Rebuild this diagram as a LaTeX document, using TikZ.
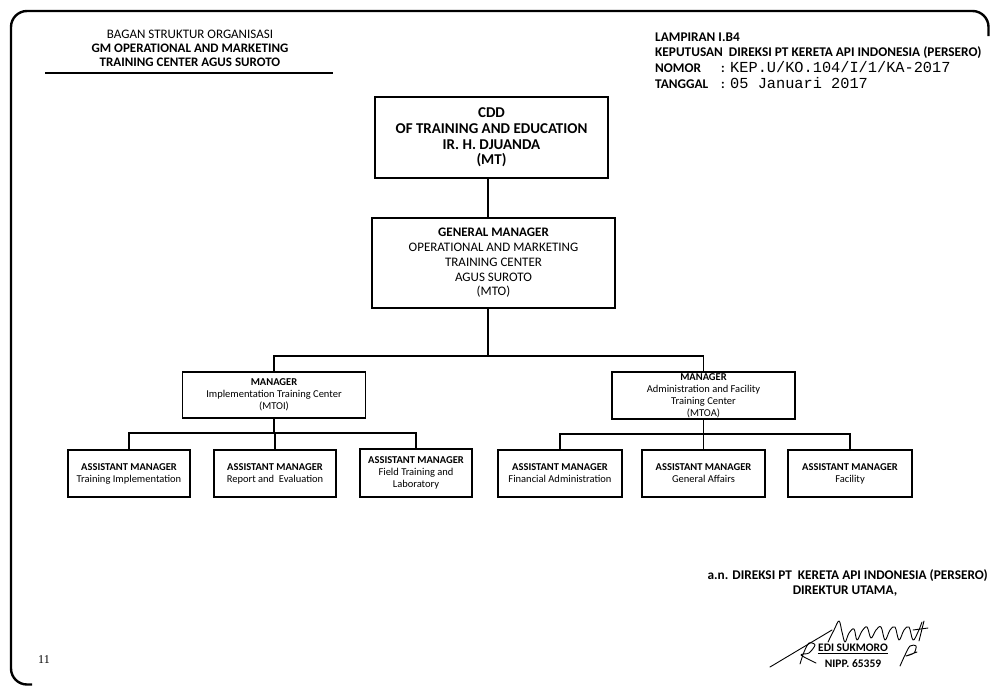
\documentclass[tikz,border=0pt]{standalone}
\usepackage{fontspec}
\setmainfont{Carlito}
\newfontfamily\monof{Liberation Mono}
\newfontfamily\serff{Liberation Serif}
\begin{document}
\begin{tikzpicture}[x=1pt,y=-1pt,
  box/.style={draw, line width=1.5pt, inner sep=0pt, align=center},
  conn/.style={line width=1.4pt},
  small/.style={font=\fontsize{10.5}{12}\selectfont},
  hdr/.style={font=\bfseries\fontsize{13.3}{14}\selectfont, inner sep=0pt, anchor=base west},
  sig/.style={line width=0.9pt, line cap=round, line join=round}]
\useasboundingbox (0,0) rectangle (990,686);
\fill[white] (0,0) rectangle (990,686);
% frame
\draw[line width=2.4pt, rounded corners=16pt] (32,684.5) -- (11,684.5) -- (11,11) -- (988.5,11) -- (988.5,36);
% title left
\node[font=\fontsize{13}{14.3}\selectfont, align=center, inner sep=0pt] (title) at (190,48.5)
  {BAGAN STRUKTUR ORGANISASI\\{\bfseries GM OPERATIONAL AND MARKETING}\\{\bfseries TRAINING CENTER AGUS SUROTO}};
\draw[line width=1.3pt] (45,73) -- (333,73);
% header right
\node[hdr] (lamp) at (655,41) {LAMPIRAN I.B4};
\node[hdr] (kep) at (655,56) {KEPUTUSAN\ \ DIREKSI PT KERETA API INDONESIA (PERSERO)};
\node[hdr] (nom) at (655,72) {NOMOR};
\node[hdr] (tgl) at (655,88) {TANGGAL};
\node[hdr] (c1) at (721,72) {:};
\node[hdr] (c2) at (721,88) {:};
\node[inner sep=0pt, anchor=base west, font=\monof\fontsize{15.3}{16}\selectfont] (nomv) at (730,72) {KEP.U/KO.104/I/1/KA-2017};
\node[inner sep=0pt, anchor=base west, font=\monof\fontsize{15.3}{16}\selectfont] (tglv) at (730,88) {05 Januari 2017};
% top boxes
\node[box, minimum width=233pt, minimum height=81pt, font=\bfseries\fontsize{15}{15.6}\selectfont] (cdd) at (491.5,137.5)
  {CDD\\OF TRAINING AND EDUCATION\\IR. H. DJUANDA\\(MT)};
\node[box, minimum width=243pt, minimum height=90pt, font=\fontsize{13}{14.75}\selectfont] (gm) at (493.5,263)
  {{\bfseries GENERAL MANAGER}\\OPERATIONAL AND MARKETING\\TRAINING CENTER\\AGUS SUROTO\\(MTO)};
% managers
\node[box, small, minimum width=183pt, minimum height=46pt] (mi) at (274,395)
  {{\bfseries MANAGER}\\Implementation Training Center\\(MTOI)};
\node[box, small, minimum width=183pt, minimum height=47pt] (ma) at (703.5,395.5)
  {{\bfseries MANAGER}\\Administration and Facility\\Training Center\\(MTOA)};
% assistants
\node[box, small, minimum width=122pt, minimum height=47pt] (a1) at (129,473.5)
  {{\bfseries ASSISTANT MANAGER}\\Training Implementation};
\node[box, small, minimum width=122pt, minimum height=47pt] (a2) at (275,473.5)
  {{\bfseries ASSISTANT MANAGER}\\Report and\ \ Evaluation};
\node[box, small, minimum width=112pt, minimum height=48pt] (a3) at (416,473)
  {{\bfseries ASSISTANT MANAGER}\\Field Training and\\Laboratory};
\node[box, small, minimum width=124pt, minimum height=47pt] (a4) at (560,473.5)
  {{\bfseries ASSISTANT MANAGER}\\Financial Administration};
\node[box, small, minimum width=123pt, minimum height=47pt] (a5) at (703.5,473.5)
  {{\bfseries ASSISTANT MANAGER}\\General Affairs};
\node[box, small, minimum width=124pt, minimum height=47pt] (a6) at (850,473.5)
  {{\bfseries ASSISTANT MANAGER}\\Facility};
% connectors
\coordinate (busy) at (0,356);
\coordinate (lby) at (0,433);
\coordinate (rby) at (0,434);
\draw[conn] (cdd.south -| 488,0) -- (gm.north -| 488,0);
\draw[conn] (gm.south -| 488,0) -- (488,356);
\draw[conn] (mi.north) -- (mi.north |- busy) -- (ma.north |- busy) -- (ma.north);
\draw[conn] (mi.south) -- (mi.south |- lby);
\draw[conn] (a1.north) -- (a1.north |- lby) -- (a3.north |- lby) -- (a3.north);
\draw[conn] (a2.north) -- (a2.north |- lby);
\draw[conn] (ma.south) -- (ma.south |- rby);
\draw[conn] (a4.north) -- (a4.north |- rby) -- (a6.north |- rby) -- (a6.north);
\draw[conn] (a5.north) -- (a5.north |- rby);
% page number
\node[font=\serff\fontsize{12}{13}\selectfont, inner sep=0pt] (pg) at (44,660) {11};
% signature block
\node[font=\bfseries\fontsize{13.3}{14}\selectfont, inner sep=0pt, anchor=base east] (an) at (988,579) {a.n. DIREKSI PT\ \ KERETA API INDONESIA (PERSERO)};
\node[font=\bfseries\fontsize{13.3}{14}\selectfont, inner sep=0pt, anchor=base] (dir) at (845,594) {DIREKTUR UTAMA,};
\node[font=\bfseries\fontsize{11.5}{13}\selectfont, inner sep=0pt, anchor=base] (edi) at (853,651) {EDI SUKMORO};
\draw[line width=0.9pt] (edi.base west) ++(0,2.5) -- ([yshift=-2.5pt]edi.base east);
\node[font=\bfseries\fontsize{11.5}{13}\selectfont, inner sep=0pt, anchor=base] (nipp) at (853,667) {NIPP. 65359};
% handwritten signature (approximate)
\draw[sig] (770,667) -- (832,630);
\draw[sig] plot[smooth, tension=0.6] coordinates {(828,642) (834,630) (839,621) (842,632) (845,642) (849,633) (854,629) (857,640) (862,631) (867,627) (871,638) (876,630) (881,627) (885,640) (890,630) (895,627) (899,640) (904,630) (909,627) (913,640) (918,632) (922,622)};
\draw[sig] (919,641) -- (924,621);
\draw[sig] (913,630) -- (928,628);
\draw[sig] plot[smooth] coordinates {(800,664) (804,652) (809,643) (815,645) (809,653) (801,655) (816,663)};
\draw[sig] plot[smooth] coordinates {(900,666) (905,655) (910,646) (916,646) (914,653) (906,656) (917,652)};
\end{tikzpicture}
\end{document}
